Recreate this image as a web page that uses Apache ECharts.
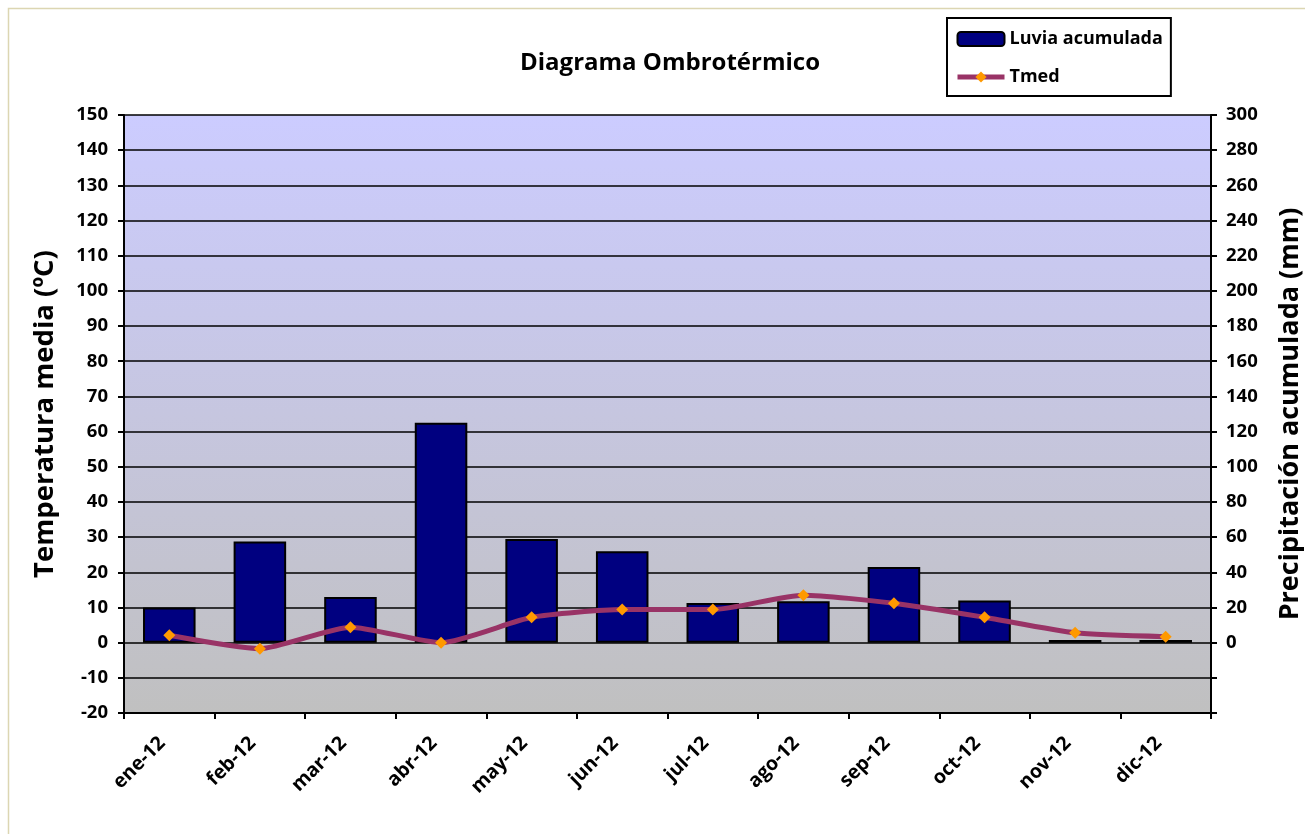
<!DOCTYPE html>
<html>
<head>
<meta charset="utf-8">
<script src="https://cdn.jsdelivr.net/npm/echarts@6/dist/echarts.min.js"></script>
<style>
html,body{margin:0;padding:0;background:#fff;}
#chart{width:1305px;height:834px;}
</style>
</head>
<body>
<div id="chart"></div>
<script>
const months = ['ene-12','feb-12','mar-12','abr-12','may-12','jun-12','jul-12','ago-12','sep-12','oct-12','nov-12','dic-12'];
const lluvia = [20, 57.5, 26, 125, 59, 52, 22.5, 23.5, 43, 24, 1.5, 1.5];
const tmed = [2.1, -1.7, 4.4, 0.0, 7.2, 9.4, 9.4, 13.5, 11.2, 7.2, 2.8, 1.7];
const leftTicks = {min: -20, max: 150, interval: 10};
const rightTicks = {min: -40, max: 300, interval: 20};

const FONT = '"Open Sans", sans-serif';
const chart = echarts.init(document.getElementById('chart'), null, {renderer: 'canvas'});
chart.setOption({
  backgroundColor: '#ffffff',
  animation: false,
  textStyle: {fontFamily: FONT},
  title: {
    text: 'Diagrama Ombrotérmico',
    left: 665, top: 46, textAlign: 'center',
    textStyle: {fontFamily: FONT, fontWeight: 'bold', fontSize: 24, color: '#000'}
  },
  graphic: [{
    type: 'rect', left: 6, top: 6, silent: true,
    shape: {width: 1400, height: 900},
    style: {fill: 'none', stroke: '#DCD6B2', lineWidth: 1.5}
  }],
  legend: {
    orient: 'vertical', left: 947, top: 18,
    padding: [12, 8, 10, 8], itemGap: 20,
    itemWidth: 47, itemHeight: 14,
    backgroundColor: '#fff', borderColor: '#000', borderWidth: 2,
    textStyle: {fontFamily: FONT, fontWeight: 'bold', fontSize: 18, color: '#000'},
    data: [
      {name: 'Luvia acumulada'},
      {name: 'Tmed', lineStyle: {width: 5, color: '#993366'}}
    ]
  },
  grid: {
    left: 124, right: 94, top: 115, bottom: 121,
    outerBoundsMode: 'none', containLabel: false,
    show: true, borderWidth: 0,
    backgroundColor: {
      type: 'linear', x: 0, y: 0, x2: 0, y2: 1,
      colorStops: [{offset: 0, color: '#CCCCFF'}, {offset: 1, color: '#C0C0C0'}]
    }
  },
  xAxis: {
    type: 'category', data: months, boundaryGap: true,
    axisLine: {onZero: false, lineStyle: {color: '#000', width: 2}},
    axisTick: {show: true, alignWithLabel: false, length: 6, lineStyle: {color: '#000', width: 2}},
    axisLabel: {rotate: 45, margin: 20, padding: [0, 10, 0, 0], fontFamily: FONT, fontWeight: 'bold', fontSize: 19.5, color: '#000', interval: 0}
  },
  yAxis: [{
    type: 'value', position: 'left', ...leftTicks,
    name: 'Temperatura media (ºC)', nameLocation: 'middle', nameGap: 65, nameRotate: 90,
    nameTextStyle: {fontFamily: FONT, fontWeight: 'bold', fontSize: 27.5, color: '#000'},
    axisLine: {show: true, lineStyle: {color: '#000', width: 2}},
    axisTick: {show: true, length: 6, lineStyle: {color: '#000', width: 2}},
    axisLabel: {margin: 16, fontFamily: FONT, fontWeight: 'bold', fontSize: 18.5, color: '#000'},
    splitLine: {show: true, lineStyle: {color: '#000', width: 1.5}}
  }, {
    type: 'value', position: 'right', ...rightTicks,
    name: 'Precipitación acumulada (mm)', nameLocation: 'middle', nameGap: 66, nameRotate: 90,
    nameTextStyle: {fontFamily: FONT, fontWeight: 'bold', fontSize: 27, color: '#000'},
    axisLine: {show: true, lineStyle: {color: '#000', width: 2}},
    axisTick: {show: true, length: 6, lineStyle: {color: '#000', width: 2}},
    axisLabel: {margin: 15, fontFamily: FONT, fontWeight: 'bold', fontSize: 18.5, color: '#000',
      formatter: v => v < 0 ? '' : String(v)},
    splitLine: {show: false}
  }],
  series: [{
    name: 'Luvia acumulada', type: 'bar', yAxisIndex: 1, data: lluvia,
    barWidth: '58%',
    itemStyle: {color: '#000080', borderColor: '#000', borderWidth: 2}
  }, {
    name: 'Tmed', type: 'line', yAxisIndex: 0, data: tmed,
    symbol: 'diamond', symbolSize: 12, smooth: 0.2,
    lineStyle: {color: '#993366', width: 5},
    itemStyle: {color: '#FF9900', borderWidth: 0}
  }]
});
</script>
</body>
</html>
